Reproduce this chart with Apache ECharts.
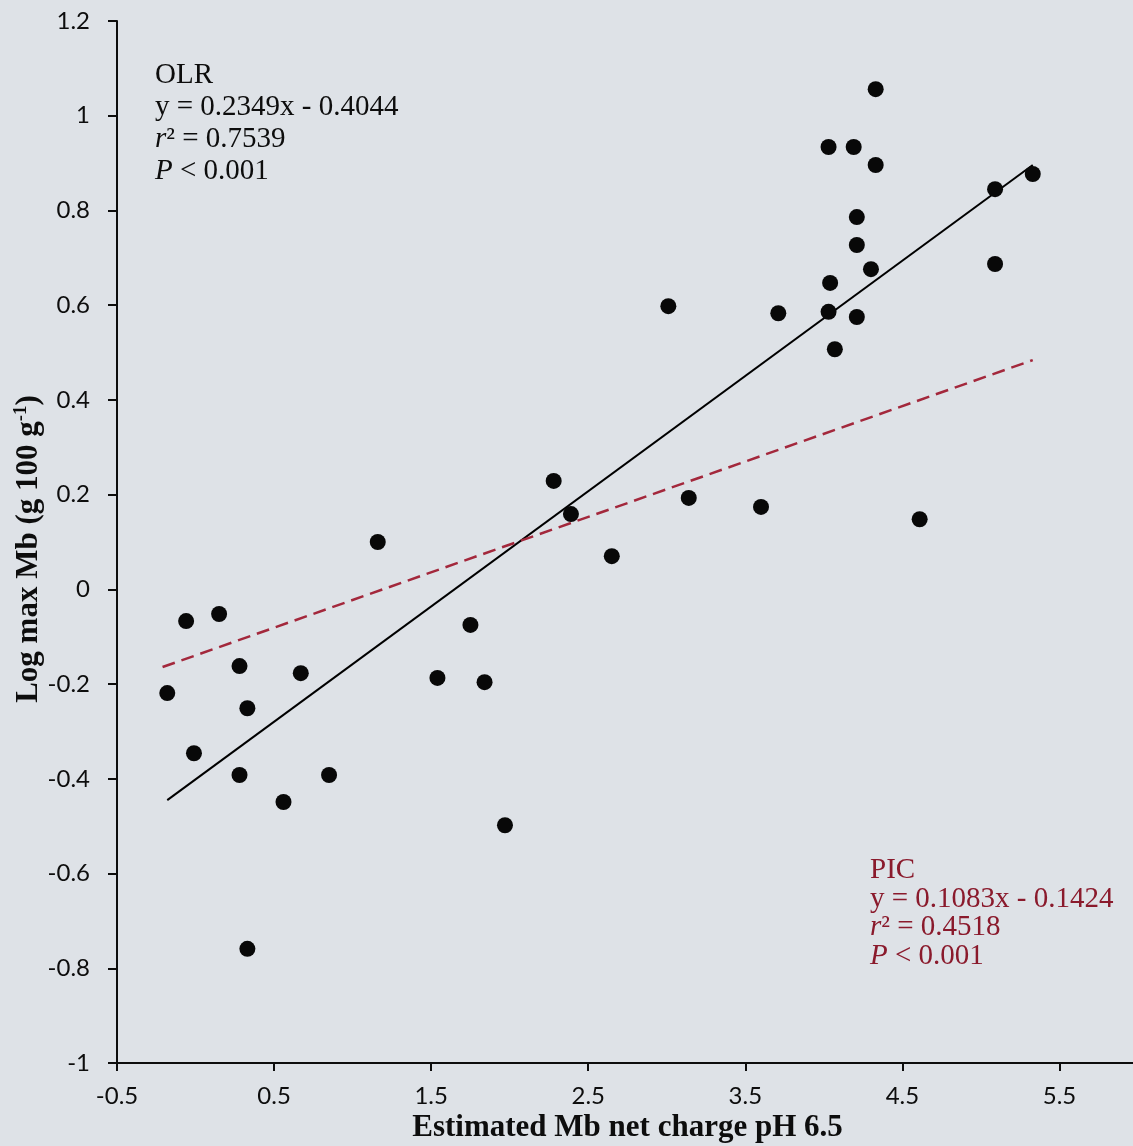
<!DOCTYPE html>
<html><head><meta charset="utf-8">
<script src="https://cdn.jsdelivr.net/npm/echarts@6/dist/echarts.min.js"></script>
<style>html,body{margin:0;padding:0;background:#dee2e7;}#c{width:1133px;height:1146px;}</style>
</head><body><div id="c"></div>
<script>
// Estimated Mb net charge at pH 6.5 (x) and log max Mb (y), one entry per species
const chargeX = [-0.18, -0.06, -0.01, 0.15, 0.28, 0.28, 0.33, 0.33, 0.56, 0.67, 0.85,
  1.16, 1.54, 1.75, 1.84, 1.97, 2.28, 2.39, 2.65, 3.01, 3.14, 3.60, 3.71,
  4.03, 4.19, 4.33, 4.33, 4.21, 4.21, 4.30, 4.04, 4.03, 4.21, 4.07, 4.61, 5.09, 5.33, 5.09];
const logMb = [-0.219, -0.067, -0.346, -0.052, -0.162, -0.392, -0.251, -0.759, -0.449, -0.177, -0.392,
  0.100, -0.187, -0.075, -0.196, -0.498, 0.229, 0.159, 0.070, 0.598, 0.193, 0.174, 0.583,
  0.934, 0.934, 1.056, 0.896, 0.786, 0.727, 0.676, 0.647, 0.586, 0.575, 0.507, 0.148, 0.845, 0.877, 0.687];

// Fitted lines (end points)
const olrLineX = [-0.18, 5.33];
const olrLineY = [-0.445, 0.896];
const picLineX = [-0.21, 5.33];
const picLineY = [-0.164, 0.484];

// Tick labels
const xTickVals = [-0.5, 0.5, 1.5, 2.5, 3.5, 4.5, 5.5];
const xTickLabels = ['-0.5', '0.5', '1.5', '2.5', '3.5', '4.5', '5.5'];
const yTickVals = [-1, -0.8, -0.6, -0.4, -0.2, 0, 0.2, 0.4, 0.6, 0.8, 1, 1.2];
const yTickLabels = ['-1', '-0.8', '-0.6', '-0.4', '-0.2', '0', '0.2', '0.4', '0.6', '0.8', '1', '1.2'];

// Annotation texts
const olrText = ['OLR', 'y = 0.2349x - 0.4044', '{i|r}² = 0.7539', '{i|P} < 0.001'];
const picText = ['PIC', 'y = 0.1083x - 0.1424', '{i|r}² = 0.4518', '{i|P} < 0.001'];

const serif = '"Liberation Serif","Times New Roman",serif';
const sans = 'Lato,"Open Sans",sans-serif';
const ink = '#0d0d0d';
const red = '#8a1a2c';

function pick(vals, labels) {
  return function (v) {
    const i = vals.findIndex(t => Math.abs(t - v) < 1e-6);
    return i >= 0 ? labels[i] : '';
  };
}

const chart = echarts.init(document.getElementById('c'), null, {renderer: 'canvas'});
const option = {
  backgroundColor: '#dee2e7',
  animation: false,
  grid: {left: 117, right: -5, top: 21, bottom: 83, containLabel: false, outerBoundsMode: 'none'},
  xAxis: {
    type: 'value', min: -0.5, max: 6.0, interval: 1,
    splitLine: {show: false},
    axisLine: {onZero: false, lineStyle: {color: ink, width: 2}},
    axisTick: {inside: false, length: 8, lineStyle: {color: ink, width: 2}},
    axisLabel: {margin: 21, fontFamily: sans, fontSize: 24, color: ink, showMaxLabel: false,
      formatter: pick(xTickVals, xTickLabels)},
    name: 'Estimated Mb net charge pH 6.5', nameLocation: 'middle', nameGap: 49, nameMoveOverlap: false,
    nameTextStyle: {fontFamily: serif, fontWeight: 'bold', fontSize: 31, color: ink}
  },
  yAxis: {
    type: 'value', min: -1, max: 1.2, interval: 0.2,
    splitLine: {show: false},
    axisLine: {onZero: false, lineStyle: {color: ink, width: 2}},
    axisTick: {inside: false, length: 9, lineStyle: {color: ink, width: 2}},
    axisLabel: {margin: 27, fontFamily: sans, fontSize: 24, color: ink,
      formatter: pick(yTickVals, yTickLabels)},
    name: 'Log max Mb (g 100 g{sup|-1})', nameLocation: 'middle', nameGap: 72, nameRotate: 90, nameMoveOverlap: false,
    nameTextStyle: {fontFamily: serif, fontWeight: 'bold', fontSize: 31, color: ink, padding: [0, 14, 0, 0],
      rich: {sup: {fontFamily: serif, fontWeight: 'bold', fontSize: 19, color: ink, verticalAlign: 'top', padding: [0, 0, 14, 0]}}}
  },
  series: [
    {
      type: 'line', data: olrLineX.map((x, i) => [x, olrLineY[i]]),
      symbol: 'none', lineStyle: {color: '#000', width: 2}, z: 2
    },
    {
      type: 'line', data: picLineX.map((x, i) => [x, picLineY[i]]),
      symbol: 'none', lineStyle: {color: '#a3283c', width: 2.5, type: [13, 7]}, z: 2
    },
    {
      type: 'scatter', data: chargeX.map((x, i) => [x, logMb[i]]),
      symbol: 'circle', symbolSize: 16,
      itemStyle: {color: '#080808', opacity: 1}, z: 3
    }
  ],
  graphic: [
    {
      type: 'text', left: 155, top: 59,
      style: {
        text: olrText.join('\n'), fill: ink, fontFamily: serif, fontSize: 29, lineHeight: 32,
        rich: {i: {fontStyle: 'italic', fontFamily: serif, fontSize: 29, lineHeight: 32, fill: ink}}
      }
    },
    {
      type: 'text', left: 870, top: 856,
      style: {
        text: picText.join('\n'), fill: red, fontFamily: serif, fontSize: 29, lineHeight: 28.5,
        rich: {i: {fontStyle: 'italic', fontFamily: serif, fontSize: 29, lineHeight: 28.5, fill: red}}
      }
    }
  ]
};
chart.setOption(option);
</script>
</body></html>
